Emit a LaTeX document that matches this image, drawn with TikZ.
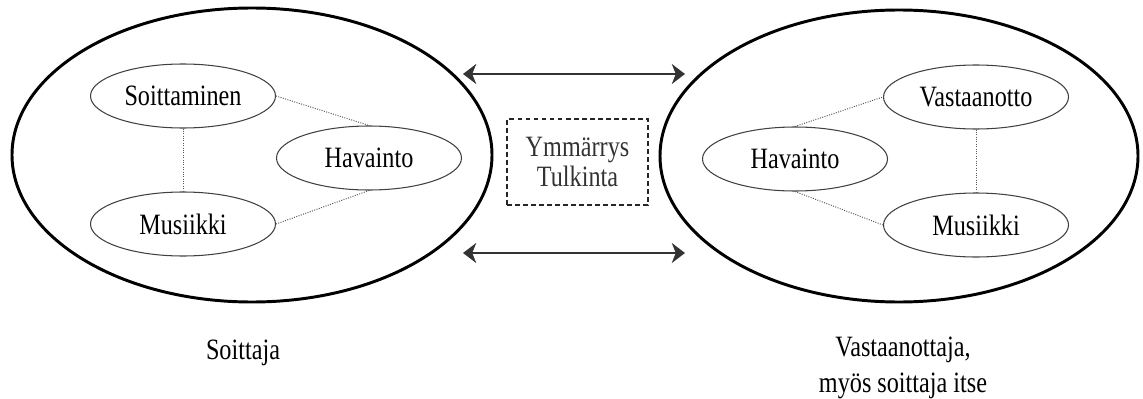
\documentclass[tikz,border=0pt]{standalone}
\usepackage{fontspec}
\setmainfont{Liberation Serif}[FakeStretch=0.82]
\usetikzlibrary{shapes.geometric}
\usetikzlibrary{arrows.meta}
\usetikzlibrary{positioning}

\begin{document}
\begin{tikzpicture}[
  txt/.style={font=\fontsize{21}{26}\selectfont, text=black},
  part/.style={ellipse, draw=black!75, line width=0.75pt, inner sep=0pt,
    minimum width=4.625cm, minimum height=1.6cm, txt},
  whole/.style={ellipse, draw=black, line width=2.1pt, inner sep=0pt,
    minimum width=12cm, minimum height=7.35cm},
  link/.style={draw=black!65, line width=0.7pt, densely dotted},
  both/.style={draw=black!80, line width=1.4pt,
    {Stealth[length=0.33cm,width=0.5cm,inset=0.1cm]}-{Stealth[length=0.33cm,width=0.5cm,inset=0.1cm]}}
]
\useasboundingbox (0,0) rectangle (28.575,9.95);

\node[whole] (player) at (6.3,6.075) {};
\node[whole,minimum width=11.95cm,minimum height=7.3cm] (listener) at (22.475,6.05) {};

\node[part] (soit) at (4.575,7.55) {Soittaminen};
\node[part] (havL) at (9.225,6.0) {Havainto};
\node[part] (musL) at (4.575,4.35) {Musiikki};
\draw[link] (soit.south) -- (musL.north);
\draw[link] (soit.east) -- (havL.north);
\draw[link] (musL.east) -- (havL.south);

\node[part] (vast) at (24.4,7.525) {Vastaanotto};
\node[part] (havR) at (19.875,5.975) {Havainto};
\node[part] (musR) at (24.4,4.325) {Musiikki};
\draw[link] (havR.north) -- (vast.west);
\draw[link] (havR.south) -- (musR.west);
\draw[link] (vast.south) -- (musR.north);

\node[draw=black!85, line width=1pt, dash pattern=on 3.5pt off 2.2pt,
  minimum width=3.525cm, minimum height=2.15cm, align=center,
  font=\fontsize{21}{22}\selectfont, text=black!80] (mid) at (14.4375,5.9) {Ymmärrys\\Tulkinta};

\coordinate (topL) at (11.575,8.1);
\coordinate (topR) at (17.125,8.1);
\coordinate (botL) at (11.575,3.625);
\coordinate (botR) at (17.125,3.625);
\draw[both] (topL) -- (topR);
\draw[both] (botL) -- (botR);

\node[txt] (who) at (6.075,1.125) {Soittaja};
\node[txt, align=center] (whom) at (22.575,0.75) {Vastaanottaja,\\myös soittaja itse};

\end{tikzpicture}
\end{document}
